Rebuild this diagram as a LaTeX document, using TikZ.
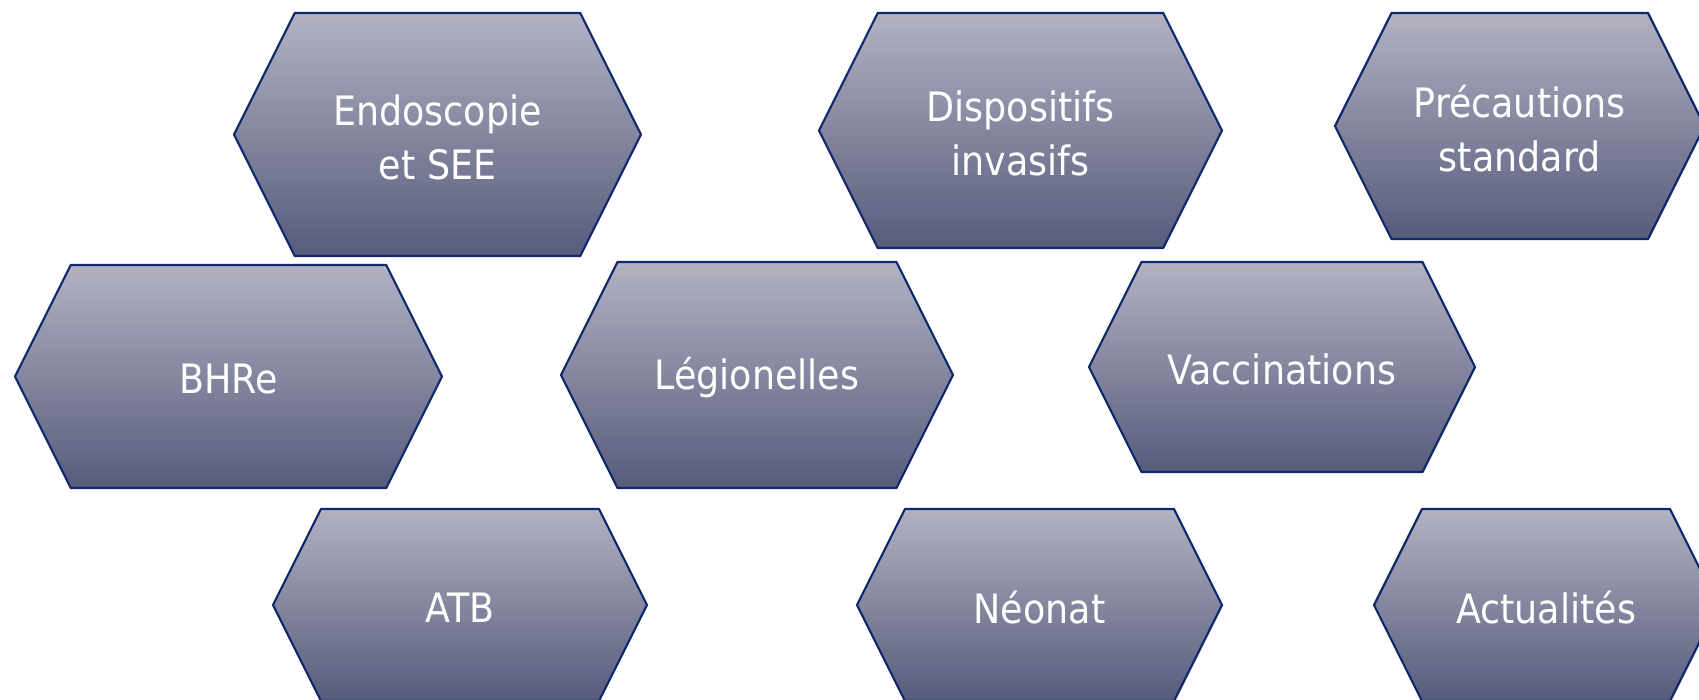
\documentclass[tikz,border=0pt]{standalone}
\usepackage{fontspec}
\setmainfont{DejaVu Sans Condensed}
\usepackage{tikz}

\definecolor{hexTop}{HTML}{B2B2C2}
\definecolor{hexBottom}{HTML}{575B7C}
\definecolor{hexLine}{HTML}{10296B}

\begin{document}
\begin{tikzpicture}[
  x=1pt, y=-1pt,
  hexa/.style={draw=hexLine, line width=2.2pt, line join=round, top color=hexTop, bottom color=hexBottom},
  lbl/.style={text=white, align=center, inner sep=0pt, yshift=-2.5pt, font=\fontsize{40.5}{54}\selectfont}
]
\useasboundingbox (0,0) rectangle (1699,699);
\clip (0,0) rectangle (1699,699);

% top row
\draw[hexa] (234,134.5) -- (294.75,13) -- (580.25,13) -- (641,134.5) -- (580.25,256) -- (294.75,256) -- cycle;
\node[lbl] (endo) at (437.5,134.5) {Endoscopie\\ et SEE};
\draw[hexa] (819,130.5) -- (877.75,13) -- (1163.25,13) -- (1222,130.5) -- (1163.25,248) -- (877.75,248) -- cycle;
\node[lbl] (dispo) at (1020.5,130.5) {Dispositifs\\ invasifs};
\draw[hexa] (1335,126) -- (1391.5,13) -- (1648,13) -- (1704.5,126) -- (1648,239) -- (1391.5,239) -- cycle;
\node[lbl] (precau) at (1519.75,126) {Précautions\\ standard};

% middle row
\draw[hexa] (15,376.5) -- (70.75,265) -- (386.25,265) -- (442,376.5) -- (386.25,488) -- (70.75,488) -- cycle;
\node[lbl] (bhre) at (228.5,376.5) {BHRe};
\draw[hexa] (561,375) -- (617.5,262) -- (896.5,262) -- (953,375) -- (896.5,488) -- (617.5,488) -- cycle;
\node[lbl] (legio) at (757,375) {Légionelles};
\draw[hexa] (1089,367) -- (1141.5,262) -- (1422.5,262) -- (1475,367) -- (1422.5,472) -- (1141.5,472) -- cycle;
\node[lbl] (vacc) at (1282,367) {Vaccinations};

% bottom row
\draw[hexa] (273,605) -- (321,509) -- (599,509) -- (647,605) -- (599,701) -- (321,701) -- cycle;
\node[lbl] (atb) at (460,605) {ATB};
\draw[hexa] (857,605) -- (905,509) -- (1174,509) -- (1222,605) -- (1174,701) -- (905,701) -- cycle;
\node[lbl] (neonat) at (1039.5,605) {Néonat};
\draw[hexa] (1374,605) -- (1422,509) -- (1670,509) -- (1718,605) -- (1670,701) -- (1422,701) -- cycle;
\node[lbl] (actu) at (1546,605) {Actualités};
\end{tikzpicture}
\end{document}
